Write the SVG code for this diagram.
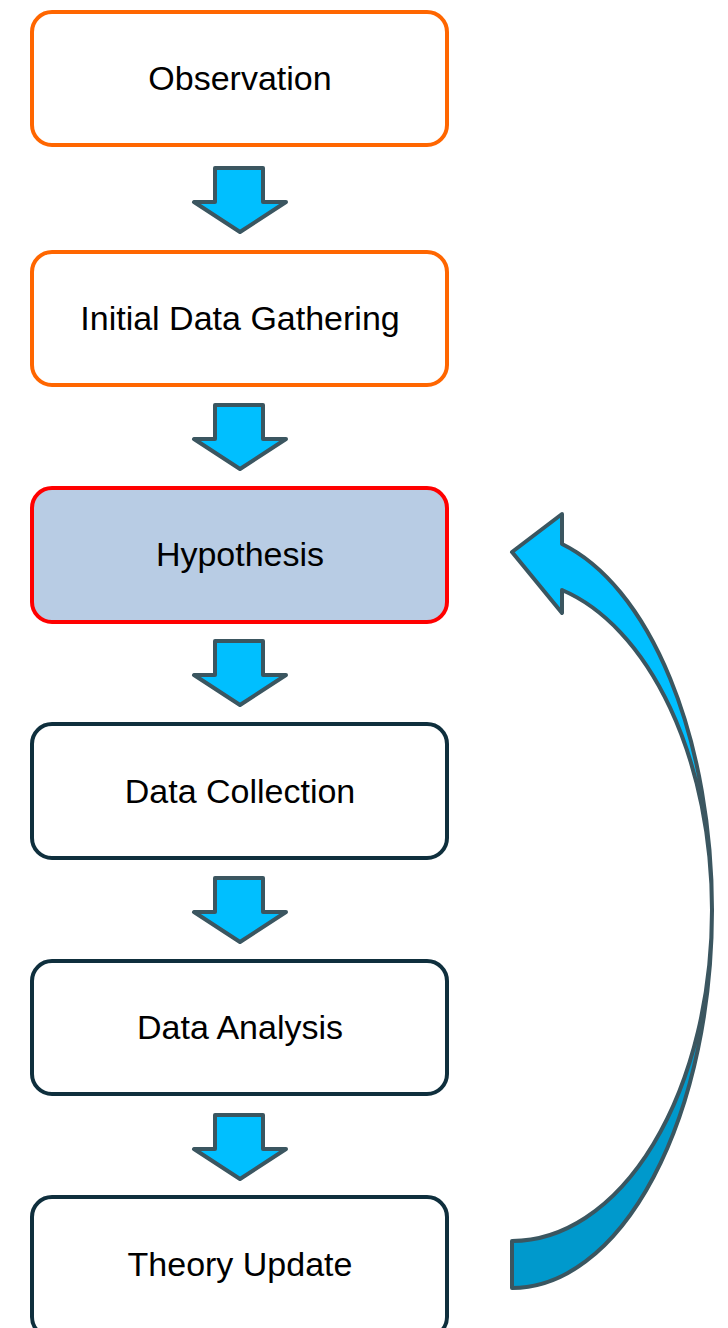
<svg xmlns="http://www.w3.org/2000/svg" width="728" height="1328" viewBox="0 0 728 1328">
<style>
.box{fill:#FFFFFF;stroke-width:4}
.orange{stroke:#FF6600}
.red{stroke:#FF0000;fill:#B8CCE4}
.dark{stroke:#0F2F3D}
.lbl{font-family:"Liberation Sans",Arial,sans-serif;font-size:34px;fill:#000;text-anchor:middle}
.blk{fill:#00BFFF;stroke:#3B5660;stroke-width:4;stroke-linejoin:round}
</style>
<defs>
<path id="down" d="M215,0 L263,0 L263,34 L286,34 L240,64 L194,34 L215,34 Z"/>
</defs>
<rect width="728" height="1328" fill="#FFFFFF"/>
<g id="n1"><rect class="box orange" x="32" y="12" width="415" height="133" rx="20"/><text class="lbl" x="240" y="90">Observation</text></g>
<g id="n2"><rect class="box orange" x="32" y="252" width="415" height="133" rx="20"/><text class="lbl" x="240" y="330">Initial Data Gathering</text></g>
<g id="n3"><rect class="box red" x="32" y="488" width="415" height="134" rx="20"/><text class="lbl" x="240" y="566">Hypothesis</text></g>
<g id="n4"><rect class="box dark" x="32" y="724" width="415" height="134" rx="20"/><text class="lbl" x="240" y="803">Data Collection</text></g>
<g id="n5"><rect class="box dark" x="32" y="961" width="415" height="133" rx="20"/><text class="lbl" x="240" y="1039">Data Analysis</text></g>
<g id="n6"><rect class="box dark" x="32" y="1197" width="415" height="140" rx="20"/><text class="lbl" x="240" y="1276">Theory Update</text></g>
<g id="connectors">
<use href="#down" class="blk" transform="translate(0,168)"/>
<use href="#down" class="blk" transform="translate(0,405)"/>
<use href="#down" class="blk" transform="translate(0,641)"/>
<use href="#down" class="blk" transform="translate(0,878)"/>
<use href="#down" class="blk" transform="translate(0,1115)"/>
<path class="blk" style="fill:#0099CC" d="M712,910 A200,378 0 0 1 512,1288 L512,1241 A200,331 0 0 0 712,910 Z"/>
<path class="blk" d="M562,544 L562,514 L512,552 L562,613 L562,590 A200,331 0 0 1 712,910 A200,378 0 0 0 562,544 Z"/>
</g>
</svg>
